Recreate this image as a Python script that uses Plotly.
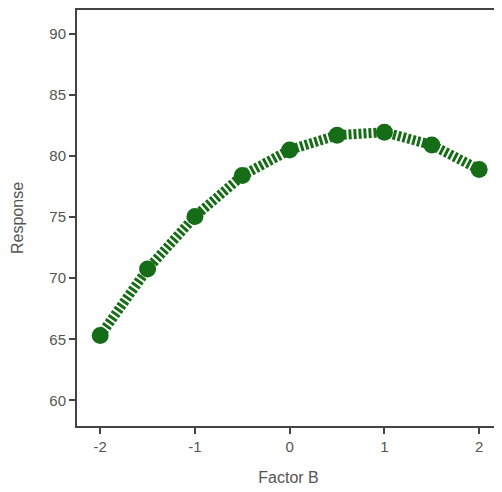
import plotly.graph_objects as go

factor_b = [-2, -1.5, -1, -0.5, 0, 0.5, 1, 1.5, 2]
response = [65.3, 70.75, 75.05, 78.4, 80.5, 81.7, 81.95, 80.9, 78.9]
x_ticks = [-2, -1, 0, 1, 2]
y_ticks = [60, 65, 70, 75, 80, 85, 90]

green = "#176d17"

fig = go.Figure()
fig.add_trace(go.Scatter(
    x=factor_b, y=response, mode="lines+markers",
    line=dict(color=green, width=10, dash="3px,2px"),
    marker=dict(color=green, size=17),
    showlegend=False,
))

axis_font = dict(family="Liberation Sans, Arial, sans-serif", size=15, color="#555555")
title_font = dict(family="Liberation Sans, Arial, sans-serif", size=16, color="#555555")
fig.update_layout(
    width=494, height=484,
    margin=dict(l=69, r=0, t=0, b=66),
    paper_bgcolor="white", plot_bgcolor="white",
    font=axis_font,
)
fig.update_xaxes(
    range=[-2.245, 2.22], tickvals=x_ticks, ticktext=[str(v) for v in x_ticks],
    showgrid=False, zeroline=False,
    showline=True, linecolor="#444444", linewidth=2, mirror=True,
    ticks="outside", ticklen=6, tickwidth=1.5, tickcolor="#444444",
    tickfont=axis_font,
    title=dict(text="Factor B", font=title_font, standoff=18),
)
fig.update_yaxes(
    range=[57.9, 91.95], tickvals=y_ticks, ticktext=[str(v) for v in y_ticks],
    showgrid=False, zeroline=False,
    showline=True, linecolor="#444444", linewidth=2, mirror=True,
    ticks="outside", ticklen=6, tickwidth=1.5, tickcolor="#444444",
    tickfont=axis_font,
    title=dict(text="Response", font=title_font, standoff=22),
)
fig.write_html("out.html")
